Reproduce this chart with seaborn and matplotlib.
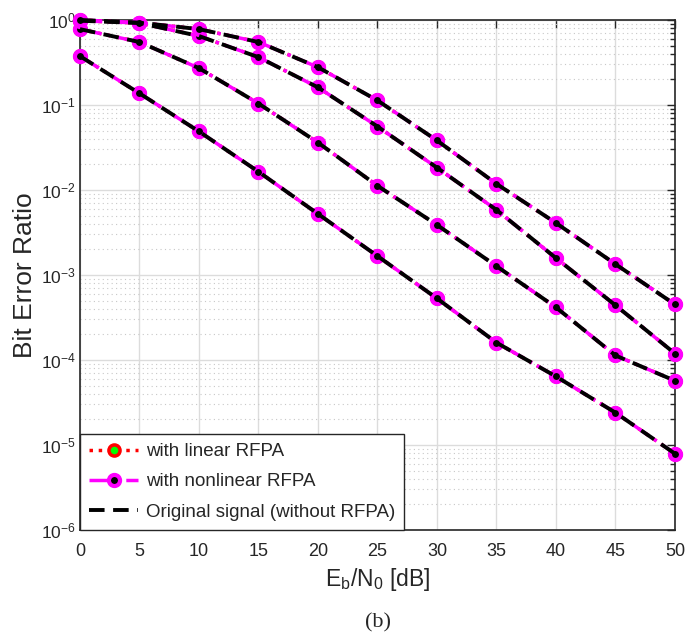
import numpy as np
import pandas as pd
import seaborn as sns
from matplotlib import pyplot as plt
from matplotlib import ticker

ebn0 = [0, 5, 10, 15, 20, 25, 30, 35, 40, 45, 50]
ber_a = [0.375, 0.137, 0.0488, 0.0164, 0.00523, 0.00167, 5.3e-4, 1.6e-4, 6.4e-5, 2.4e-5, 7.9e-6]
ber_b = [0.78, 0.55, 0.271, 0.104, 0.0361, 0.0112, 0.00388, 0.00127, 4.16e-4, 1.13e-4, 5.7e-5]
ber_c = [0.98, 0.92, 0.647, 0.365, 0.161, 0.0558, 0.0183, 0.00583, 0.00158, 4.4e-4, 1.19e-4]
ber_d = [1.0, 0.93, 0.78, 0.55, 0.278, 0.113, 0.0382, 0.0118, 0.00409, 0.00134, 4.5e-4]
curves = [ber_a, ber_b, ber_c, ber_d]

sns.set_style("white")
plt.rcParams["font.family"] = ["Liberation Sans", "DejaVu Sans"]
plt.rcParams["mathtext.fontset"] = "custom"
plt.rcParams["mathtext.rm"] = "Liberation Sans"
plt.rcParams["mathtext.it"] = "Liberation Sans"

fig = plt.figure(figsize=(6.87, 6.44), dpi=100)
ax = fig.add_axes([0.1164, 0.177, 0.8661, 0.792])

for i, ber in enumerate(curves):
    df = pd.DataFrame({"x": ebn0, "y": ber})
    # linear RFPA: red dotted, green-filled circles
    sns.lineplot(data=df, x="x", y="y", ax=ax, color="red", linestyle=":", linewidth=2.5,
                 marker="o", markersize=8, markerfacecolor="#00ff00", markeredgecolor="red",
                 markeredgewidth=2.5, clip_on=False,
                 label="with linear RFPA" if i == 0 else None, zorder=3)
    # nonlinear RFPA: magenta dash-dot, black-filled circles
    sns.lineplot(data=df, x="x", y="y", ax=ax, color="magenta", linestyle="-.", linewidth=2.5,
                 marker="o", markersize=8, markerfacecolor="black", markeredgecolor="magenta",
                 markeredgewidth=3, clip_on=False,
                 label="with nonlinear RFPA" if i == 0 else None, zorder=4)
    # original signal: black dashed
    sns.lineplot(data=df, x="x", y="y", ax=ax, color="black", linestyle=(0, (4, 2.2)), linewidth=2.8,
                 clip_on=False, label="Original signal (without RFPA)" if i == 0 else None, zorder=5)

ax.set_yscale("log")
ax.set_xlim(0, 50)
ax.set_ylim(1e-6, 1)
ax.set_xticks(range(0, 51, 5))
ax.yaxis.set_major_locator(ticker.LogLocator(base=10, numticks=10))
ax.yaxis.set_minor_locator(ticker.LogLocator(base=10, subs=np.arange(2, 10), numticks=20))
ax.yaxis.set_major_formatter(ticker.FuncFormatter(lambda v, p: r"$10^{%d}$" % round(np.log10(v))))
ax.yaxis.set_minor_formatter(ticker.NullFormatter())

ax.grid(True, which="major", color="#dcdcdc", linewidth=1.0, linestyle="-")
ax.grid(True, which="minor", axis="y", color="#c8c8c8", linewidth=0.8, linestyle=(0, (1, 3)))
ax.set_axisbelow(True)

ax.tick_params(which="both", direction="in", top=True, right=True, colors="#262626",
               labelcolor="#262626")
ax.tick_params(axis="x", labelsize=13, pad=9)
ax.tick_params(axis="y", labelsize=12.5, pad=3)
ax.tick_params(which="major", length=6, width=1)
ax.tick_params(which="minor", length=3.5, width=1)
for s in ax.spines.values():
    s.set_color("#262626")
    s.set_linewidth(1.2)
    s.set_visible(True)

ax.set_xlabel(r"E$_\mathregular{b}$/N$_\mathregular{0}$ [dB]", fontsize=16.5, labelpad=5)
ax.set_ylabel("Bit Error Ratio", fontsize=19, labelpad=3)

leg = ax.legend(loc="lower left", fontsize=13.5, frameon=True, fancybox=False,
                borderaxespad=0, handlelength=2.6, handletextpad=0.4,
                labelspacing=0.7, borderpad=0.5)
leg.get_frame().set_edgecolor("#262626")
leg.get_frame().set_linewidth(1.0)
leg.get_frame().set_alpha(1)
leg.set_zorder(10)

fig.text(0.55, 0.018, "(b)", ha="center", va="bottom", fontsize=16,
         family=["Liberation Serif", "DejaVu Serif"])

fig.savefig("out.png", dpi=100)
